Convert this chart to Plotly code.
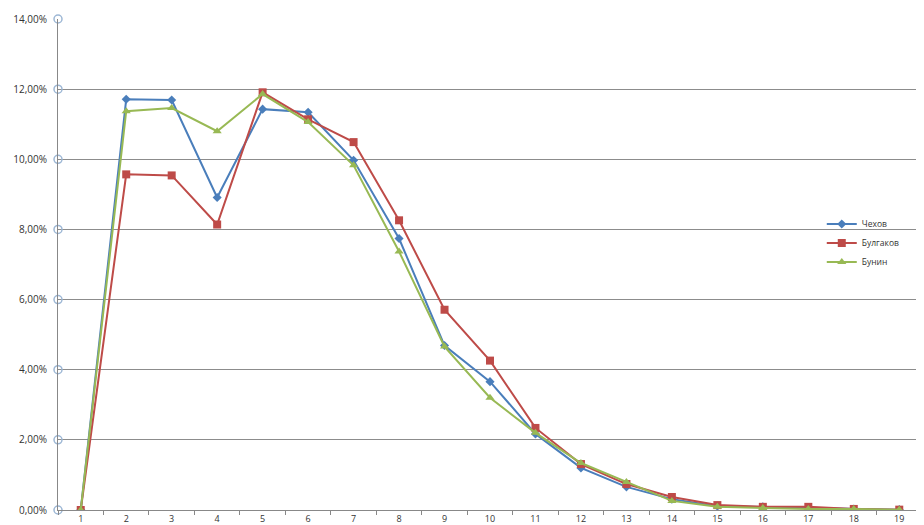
import plotly.graph_objects as go

lengths = list(range(1, 20))
chekhov = [0.0, 11.71, 11.69, 8.91, 11.43, 11.34, 9.97, 7.74, 4.69, 3.66, 2.17, 1.20, 0.66, 0.31, 0.11, 0.09, 0.06, 0.03, 0.01]
bulgakov = [0.0, 9.57, 9.54, 8.14, 11.91, 11.14, 10.49, 8.26, 5.71, 4.26, 2.34, 1.31, 0.74, 0.37, 0.14, 0.09, 0.09, 0.03, 0.01]
bunin = [0.0, 11.37, 11.46, 10.80, 11.86, 11.06, 9.83, 7.37, 4.66, 3.20, 2.20, 1.34, 0.80, 0.26, 0.09, 0.06, 0.03, 0.03, 0.01]
names = ["Чехов", "Булгаков", "Бунин"]
y_ticks = [0, 2, 4, 6, 8, 10, 12, 14]
y_ticktext = ["0,00%", "2,00%", "4,00%", "6,00%", "8,00%", "10,00%", "12,00%", "14,00%"]

x_min, x_max = 0.5, 19.5

fig = go.Figure()
styles = [
    ("#4A7EBB", "diamond", 7),
    ("#BE4B48", "square", 8),
    ("#98B954", "triangle-up", 8),
]
for name, vals, (col, sym, sz) in zip(names, [chekhov, bulgakov, bunin], styles):
    fig.add_trace(go.Scatter(
        x=lengths, y=vals, name=name, mode="lines+markers",
        line=dict(color=col, width=2),
        marker=dict(symbol=sym, size=sz, color=col),
    ))

# small circles at both ends of gridlines
for xv in (x_min, x_max):
    fig.add_trace(go.Scatter(
        x=[xv] * len(y_ticks), y=y_ticks, mode="markers", showlegend=False,
        marker=dict(symbol="circle-open", size=8, color="#9DB7D5", line=dict(width=1.5)),
        cliponaxis=False, hoverinfo="skip",
    ))

# the page body adds an 8px offset, margins compensate for it
fig.update_layout(
    width=924, height=525,
    margin=dict(l=50, r=10, t=11, b=23),
    paper_bgcolor="white", plot_bgcolor="white",
    font=dict(family="Open Sans, DejaVu Sans", size=10, color="#333333"),
    legend=dict(x=0.884, y=0.612, xanchor="left", yanchor="top",
                font=dict(size=8.5, color="#333"), bgcolor="rgba(0,0,0,0)",
                tracegroupgap=0, itemwidth=30),
    showlegend=True,
)
fig.update_xaxes(
    range=[x_min, x_max], tickvals=lengths, ticktext=[str(v) for v in lengths],
    showgrid=False, zeroline=False, showline=True, linecolor="#888888", linewidth=1,
    ticks="", tickfont=dict(size=9), automargin=False,
    minor=dict(ticks="outside", tick0=0.5, dtick=1, ticklen=4, tickcolor="#888888", showgrid=False),
)
fig.update_yaxes(
    range=[0, 14], tickvals=y_ticks, ticktext=y_ticktext,
    showgrid=True, gridcolor="#8C8C8C", gridwidth=1,
    zeroline=False, showline=True, linecolor="#888888", linewidth=1,
    ticks="", ticklabelstandoff=8, tickfont=dict(size=10), automargin=False,
)

fig.write_html("out.html")
